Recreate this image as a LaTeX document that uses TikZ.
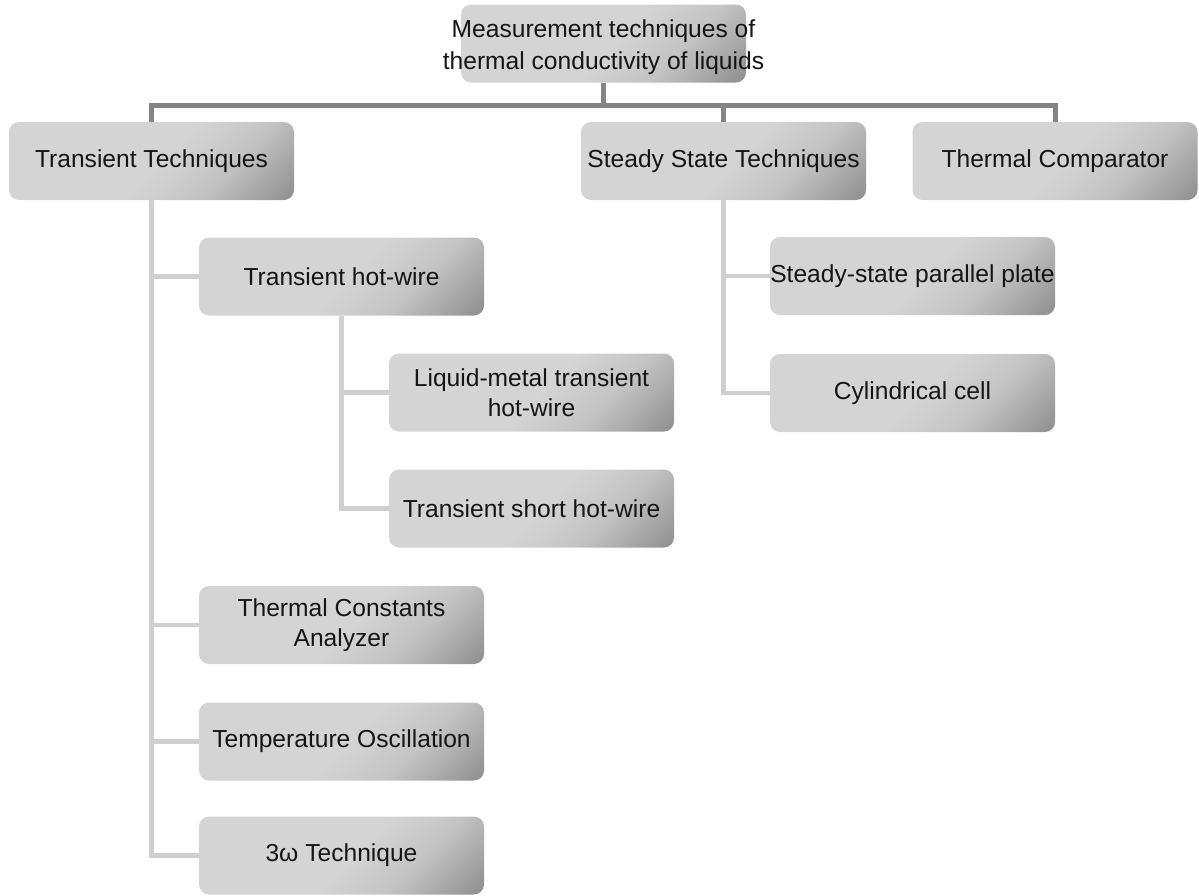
\documentclass[tikz,border=0pt]{standalone}
\usepackage{fontspec}
\setmainfont{Liberation Sans}
\definecolor{busgray}{HTML}{858585}
\definecolor{treegray}{HTML}{CFCFCF}
\definecolor{txt}{HTML}{151515}
\definecolor{gA}{HTML}{D4D4D4}
\definecolor{gB}{HTML}{C4C4C4}
\definecolor{gC}{HTML}{A6A6A6}
\definecolor{gD}{HTML}{868686}
\pgfdeclarehorizontalshading{boxshade}{100bp}{color(0bp)=(gA); color(52bp)=(gA); color(66bp)=(gB); color(77bp)=(gC); color(88bp)=(gD); color(100bp)=(gD)}
\tikzset{
  box/.style={shape=rectangle, rounded corners=5pt, minimum width=142.5pt, minimum height=39pt,
    inner sep=0pt, shading=boxshade, shading angle=-45, align=center, text=txt,
    font=\fontsize{12.3}{15}\selectfont},
  roottext/.style={align=center, text=txt, inner sep=0pt, font=\fontsize{12.3}{16}\selectfont},
  bus/.style={draw=busgray, line width=2.5pt},
  tree/.style={draw=treegray, line width=2.3pt},
}
\begin{document}
\begin{tikzpicture}[x=0.5pt, y=-0.5pt]
\useasboundingbox (0,0) rectangle (1199,895);
% nodes
\node[box] (root) at (603.5,43.5) {};
\node[roottext] (rootlabel) at (603.5,47) {Measurement techniques of\\thermal conductivity of liquids};
\node[box] (TT) at (151.5,161) {Transient Techniques};
\node[box] (SST) at (723.5,161) {Steady State Techniques};
\node[box] (TC) at (1055,161) {Thermal Comparator};
\node[box] (THW) at (341.5,276.5) {Transient hot-wire};
\node[box] (LM) at (531.5,392.5) {Liquid-metal transient\\hot-wire};
\node[box] (TSH) at (531.5,508.5) {Transient short hot-wire};
\node[box] (TCA) at (341.5,625) {Thermal Constants\\Analyzer};
\node[box] (TO) at (341.5,741.5) {Temperature Oscillation};
\node[box] (TW) at (341.5,855.5) {3ω Technique};
\node[box] (SSPP) at (912.5,276) {Steady-state parallel plate};
\node[box] (CC) at (912.5,393) {Cylindrical cell};
% bus
\coordinate (busy) at (0,105);
\draw[bus] (root.south) -- (root.south |- busy);
\draw[bus] (TT.north) -- (TT.north |- busy) -| (TC.north);
\draw[bus] (SST.north) -- (SST.north |- busy);
% tree lines
\draw[tree] (TT.south) |- (THW.west);
\draw[tree] (TT.south) |- (TCA.west);
\draw[tree] (TT.south) |- (TO.west);
\draw[tree] (TT.south) |- (TW.west);
\draw[tree] (THW.south) |- (LM.west);
\draw[tree] (THW.south) |- (TSH.west);
\draw[tree] (SST.south) |- (SSPP.west);
\draw[tree] (SST.south) |- (CC.west);
\end{tikzpicture}
\end{document}
